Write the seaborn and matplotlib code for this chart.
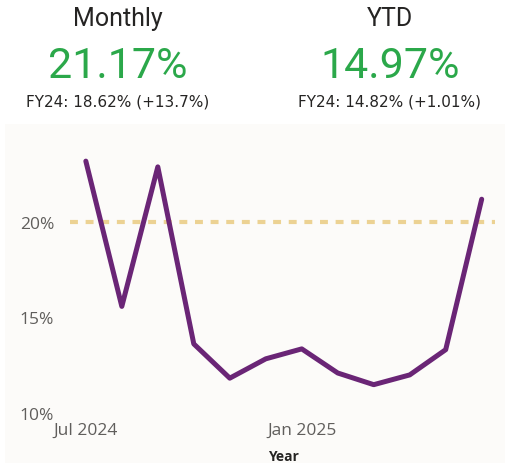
import matplotlib
matplotlib.use("Agg")
import matplotlib.pyplot as plt
import seaborn as sns
import pandas as pd
from matplotlib.patches import Rectangle

months = ["Jul 2024", "Aug 2024", "Sep 2024", "Oct 2024", "Nov 2024", "Dec 2024",
          "Jan 2025", "Feb 2025", "Mar 2025", "Apr 2025", "May 2025", "Jun 2025"]
monthly_pct = [23.16, 15.57, 22.86, 13.61, 11.82, 12.83, 13.35, 12.09, 11.48, 11.99, 13.31, 21.17]
target_pct = 20.0
tick_labels = ["Jul 2024", "Jan 2025"]
ytick_vals = [10, 15, 20]

kpi_titles = ["Monthly", "YTD"]
kpi_values = ["21.17%", "14.97%"]
kpi_subs = ["FY24: 18.62% (+13.7%)", "FY24: 14.82% (+1.01%)"]

sns.set_theme(style="white")
plt.rcParams['font.family'] = ['Roboto', 'DejaVu Sans']

df = pd.DataFrame({"idx": range(len(months)), "month": months, "value": monthly_pct})

fig = plt.figure(figsize=(5.07, 4.64), dpi=100)
fig.patch.set_facecolor("white")
# panel background
fig.patches.append(Rectangle((5/507, 0), 500/507, 1 - 125/464, transform=fig.transFigure,
                             facecolor="#FCFBF9", edgecolor="none", zorder=-5))

ax = fig.add_axes([70/507, 1 - 414/464, 425/507, (414 - 125)/464])
ax.set_zorder(2)
ax.set_facecolor("none")
ax.patch.set_alpha(0)

ax.axhline(target_pct, color="#ECD293", lw=3, dashes=(1.9, 1.85), dash_capstyle="butt", zorder=1)
sns.lineplot(data=df, x="idx", y="value", ax=ax, color="#6A2576", lw=3.6, zorder=2,
             solid_joinstyle="round", solid_capstyle="round")

ax.set_xlim(-0.44, 11.37)
ax.set_ylim(10, 25.1)
ax.set_yticks(ytick_vals)
ax.set_yticklabels([f"{v}%" for v in ytick_vals])
ax.set_xticks([months.index(t) for t in tick_labels])
ax.set_xticklabels(tick_labels)
ax.tick_params(axis="both", length=0, labelcolor="#605E5C", labelsize=12.5)
ax.tick_params(axis="y", pad=11.5)
ax.tick_params(axis="x", pad=6.5)
for lab in ax.get_xticklabels() + ax.get_yticklabels():
    lab.set_fontfamily(['Open Sans', 'DejaVu Sans'])
for s in ax.spines.values():
    s.set_visible(False)
ax.set_ylabel("")
ax.set_xlabel("")
fig.text(283/507, 1 - 457/464, "Year", ha="center", va="center", fontsize=10,
         fontweight="bold", color="#252423", family=['Open Sans', 'DejaVu Sans'])

centers = [117.5/507, 390/507]
for cx, t, v, s in zip(centers, kpi_titles, kpi_values, kpi_subs):
    fig.text(cx, 1 - 19/464, t, ha="center", va="center", fontsize=18, color="#252423")
    fig.text(cx, 1 - 66/464, v, ha="center", va="center", fontsize=31, color="#2BA84A")
    fig.text(cx, 1 - 102/464, s, ha="center", va="center", fontsize=11, color="#252423",
             family=['DejaVu Sans'])

fig.savefig("out.png", dpi=100)
